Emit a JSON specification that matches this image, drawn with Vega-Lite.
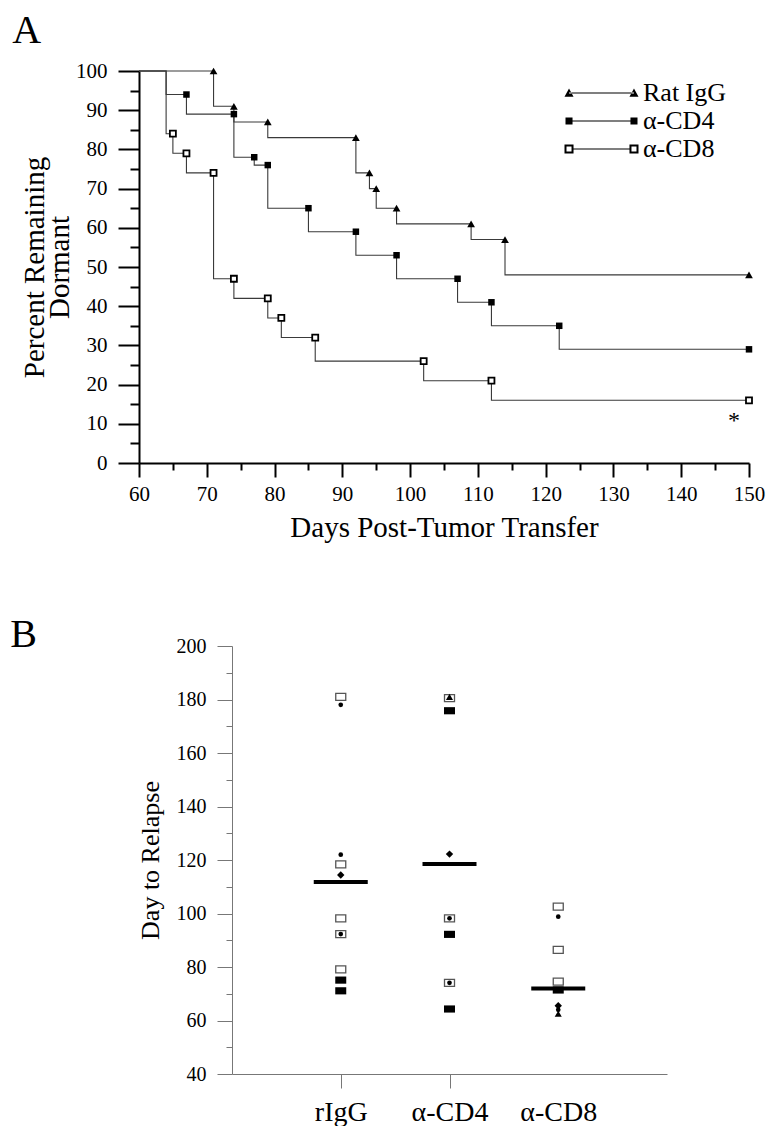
{
  "$schema": "https://vega.github.io/schema/vega-lite/v6.json",
  "padding": {"left": 10, "top": 11, "right": 4, "bottom": 4},
  "background": "white",
  "config": {
    "font": "Liberation Serif",
    "view": {"stroke": null},
    "axis": {"grid": false, "labelOverlap": false, "labelFont": "Liberation Serif", "titleFont": "Liberation Serif", "labelColor": "black", "titleColor": "black", "titleFontWeight": "normal"},
    "text": {"font": "Liberation Serif"}
  },
  "datasets": {
    "km": [
      {"g": "Rat IgG", "day": 60, "pct": 100, "m": 0},
      {"g": "Rat IgG", "day": 71, "pct": 100, "m": 1},
      {"g": "Rat IgG", "day": 74, "pct": 91, "m": 1},
      {"g": "Rat IgG", "day": 79, "pct": 87, "m": 1},
      {"g": "Rat IgG", "day": 92, "pct": 83, "m": 1},
      {"g": "Rat IgG", "day": 94, "pct": 74, "m": 1},
      {"g": "Rat IgG", "day": 95, "pct": 70, "m": 1},
      {"g": "Rat IgG", "day": 98, "pct": 65, "m": 1},
      {"g": "Rat IgG", "day": 109, "pct": 61, "m": 1},
      {"g": "Rat IgG", "day": 114, "pct": 57, "m": 1},
      {"g": "Rat IgG", "day": 150, "pct": 48, "m": 1},
      {"g": "α-CD4", "day": 60, "pct": 100, "m": 0},
      {"g": "α-CD4", "day": 64, "pct": 100, "m": 0},
      {"g": "α-CD4", "day": 67, "pct": 94, "m": 1},
      {"g": "α-CD4", "day": 74, "pct": 89, "m": 1},
      {"g": "α-CD4", "day": 77, "pct": 78, "m": 1},
      {"g": "α-CD4", "day": 79, "pct": 76, "m": 1},
      {"g": "α-CD4", "day": 85, "pct": 65, "m": 1},
      {"g": "α-CD4", "day": 92, "pct": 59, "m": 1},
      {"g": "α-CD4", "day": 98, "pct": 53, "m": 1},
      {"g": "α-CD4", "day": 107, "pct": 47, "m": 1},
      {"g": "α-CD4", "day": 112, "pct": 41, "m": 1},
      {"g": "α-CD4", "day": 122, "pct": 35, "m": 1},
      {"g": "α-CD4", "day": 150, "pct": 29, "m": 1},
      {"g": "α-CD8", "day": 60, "pct": 100, "m": 0},
      {"g": "α-CD8", "day": 64, "pct": 100, "m": 0},
      {"g": "α-CD8", "day": 65, "pct": 84, "m": 1},
      {"g": "α-CD8", "day": 67, "pct": 79, "m": 1},
      {"g": "α-CD8", "day": 71, "pct": 74, "m": 1},
      {"g": "α-CD8", "day": 74, "pct": 47, "m": 1},
      {"g": "α-CD8", "day": 79, "pct": 42, "m": 1},
      {"g": "α-CD8", "day": 81, "pct": 37, "m": 1},
      {"g": "α-CD8", "day": 86, "pct": 32, "m": 1},
      {"g": "α-CD8", "day": 102, "pct": 26, "m": 1},
      {"g": "α-CD8", "day": 112, "pct": 21, "m": 1},
      {"g": "α-CD8", "day": 150, "pct": 16, "m": 1}
    ],
    "relapse": [
      {"grp": "rIgG", "day": 181, "sym": "osq"},
      {"grp": "rIgG", "day": 178, "sym": "dot"},
      {"grp": "rIgG", "day": 122, "sym": "dot"},
      {"grp": "rIgG", "day": 118.4, "sym": "osq"},
      {"grp": "rIgG", "day": 114.4, "sym": "dia"},
      {"grp": "rIgG", "day": 98.2, "sym": "osq"},
      {"grp": "rIgG", "day": 92.3, "sym": "osq"},
      {"grp": "rIgG", "day": 92.3, "sym": "dot"},
      {"grp": "rIgG", "day": 79.1, "sym": "osq"},
      {"grp": "rIgG", "day": 75.1, "sym": "sq"},
      {"grp": "rIgG", "day": 71.1, "sym": "sq"},
      {"grp": "α-CD4", "day": 180.5, "sym": "osq"},
      {"grp": "α-CD4", "day": 181, "sym": "tri"},
      {"grp": "α-CD4", "day": 175.8, "sym": "sq"},
      {"grp": "α-CD4", "day": 122.2, "sym": "dia"},
      {"grp": "α-CD4", "day": 98.2, "sym": "osq"},
      {"grp": "α-CD4", "day": 98.2, "sym": "dot"},
      {"grp": "α-CD4", "day": 92.2, "sym": "sq"},
      {"grp": "α-CD4", "day": 74.1, "sym": "osq"},
      {"grp": "α-CD4", "day": 74.1, "sym": "dot"},
      {"grp": "α-CD4", "day": 64.3, "sym": "sq"},
      {"grp": "α-CD8", "day": 102.6, "sym": "osq"},
      {"grp": "α-CD8", "day": 98.8, "sym": "dot"},
      {"grp": "α-CD8", "day": 86.4, "sym": "osq"},
      {"grp": "α-CD8", "day": 74.5, "sym": "osq"},
      {"grp": "α-CD8", "day": 71.4, "sym": "sq"},
      {"grp": "α-CD8", "day": 65.5, "sym": "dia"},
      {"grp": "α-CD8", "day": 64, "sym": "dot"},
      {"grp": "α-CD8", "day": 62.5, "sym": "tri"}
    ],
    "means": [
      {"grp": "rIgG", "mean_day": 111.8},
      {"grp": "α-CD4", "mean_day": 118.5},
      {"grp": "α-CD8", "mean_day": 72}
    ]
  },
  "bounds": "flush",
  "spacing": 183,
  "resolve": {"scale": {"x": "independent", "y": "independent"}},
  "vconcat": [
    {
      "width": 610,
      "height": 392,
      "data": {"name": "km"},
      "layer": [
        {
          "mark": {"type": "line", "interpolate": "step-before", "color": "#3a3a3a", "strokeWidth": 1.1},
          "encoding": {
            "x": {"field": "day", "type": "quantitative", "scale": {"domain": [60, 150], "nice": false, "zero": false},
              "axis": {"title": "Days Post-Tumor Transfer", "values": [60, 65, 70, 75, 80, 85, 90, 95, 100, 105, 110, 115, 120, 125, 130, 135, 140, 145, 150], "labelExpr": "datum.value % 10 === 0 ? datum.label : ''", "tickSize": {"condition": {"test": "datum.value % 10 === 0", "value": 14}, "value": 7}, "domainColor": "black", "domainWidth": 2, "tickColor": "black", "tickWidth": 2, "labelFontSize": 21, "labelPadding": 6, "labelFlush": false, "labelOverlap": false, "titleFontSize": 29, "titlePadding": 9}},
            "y": {"field": "pct", "type": "quantitative", "scale": {"domain": [0, 100], "nice": false, "zero": false},
              "axis": {"title": ["Percent Remaining", "Dormant"], "values": [0, 5, 10, 15, 20, 25, 30, 35, 40, 45, 50, 55, 60, 65, 70, 75, 80, 85, 90, 95, 100], "labelExpr": "datum.value % 10 === 0 ? datum.label : ''", "tickSize": {"condition": {"test": "datum.value % 10 === 0", "value": 21}, "value": 9}, "domainColor": "black", "domainWidth": 2, "tickColor": "black", "tickWidth": 2, "labelFontSize": 21, "labelPadding": 11, "labelFlush": false, "labelOverlap": false, "titleFontSize": 29, "titlePadding": 1, "titleLineHeight": 25}},
            "detail": {"field": "g", "type": "nominal"}
          }
        },
        {
          "transform": [{"filter": "datum.g === 'Rat IgG' && datum.m === 1"}],
          "mark": {"type": "point", "shape": "triangle-up", "filled": true, "color": "black", "size": 60, "opacity": 1},
          "encoding": {
            "x": {"field": "day", "type": "quantitative", "scale": {"domain": [60, 150], "nice": false, "zero": false},
              "axis": {"title": "Days Post-Tumor Transfer", "values": [60, 65, 70, 75, 80, 85, 90, 95, 100, 105, 110, 115, 120, 125, 130, 135, 140, 145, 150], "labelExpr": "datum.value % 10 === 0 ? datum.label : ''", "tickSize": {"condition": {"test": "datum.value % 10 === 0", "value": 14}, "value": 7}, "domainColor": "black", "domainWidth": 2, "tickColor": "black", "tickWidth": 2, "labelFontSize": 21, "labelPadding": 6, "labelFlush": false, "labelOverlap": false, "titleFontSize": 29, "titlePadding": 9}},
            "y": {"field": "pct", "type": "quantitative", "scale": {"domain": [0, 100], "nice": false, "zero": false},
              "axis": {"title": ["Percent Remaining", "Dormant"], "values": [0, 5, 10, 15, 20, 25, 30, 35, 40, 45, 50, 55, 60, 65, 70, 75, 80, 85, 90, 95, 100], "labelExpr": "datum.value % 10 === 0 ? datum.label : ''", "tickSize": {"condition": {"test": "datum.value % 10 === 0", "value": 21}, "value": 9}, "domainColor": "black", "domainWidth": 2, "tickColor": "black", "tickWidth": 2, "labelFontSize": 21, "labelPadding": 11, "labelFlush": false, "labelOverlap": false, "titleFontSize": 29, "titlePadding": 1, "titleLineHeight": 25}}
          }
        },
        {
          "transform": [{"filter": "datum.g === 'α-CD4' && datum.m === 1"}],
          "mark": {"type": "point", "shape": "square", "filled": true, "color": "black", "size": 42, "opacity": 1},
          "encoding": {
            "x": {"field": "day", "type": "quantitative", "scale": {"domain": [60, 150], "nice": false, "zero": false},
              "axis": {"title": "Days Post-Tumor Transfer", "values": [60, 65, 70, 75, 80, 85, 90, 95, 100, 105, 110, 115, 120, 125, 130, 135, 140, 145, 150], "labelExpr": "datum.value % 10 === 0 ? datum.label : ''", "tickSize": {"condition": {"test": "datum.value % 10 === 0", "value": 14}, "value": 7}, "domainColor": "black", "domainWidth": 2, "tickColor": "black", "tickWidth": 2, "labelFontSize": 21, "labelPadding": 6, "labelFlush": false, "labelOverlap": false, "titleFontSize": 29, "titlePadding": 9}},
            "y": {"field": "pct", "type": "quantitative", "scale": {"domain": [0, 100], "nice": false, "zero": false},
              "axis": {"title": ["Percent Remaining", "Dormant"], "values": [0, 5, 10, 15, 20, 25, 30, 35, 40, 45, 50, 55, 60, 65, 70, 75, 80, 85, 90, 95, 100], "labelExpr": "datum.value % 10 === 0 ? datum.label : ''", "tickSize": {"condition": {"test": "datum.value % 10 === 0", "value": 21}, "value": 9}, "domainColor": "black", "domainWidth": 2, "tickColor": "black", "tickWidth": 2, "labelFontSize": 21, "labelPadding": 11, "labelFlush": false, "labelOverlap": false, "titleFontSize": 29, "titlePadding": 1, "titleLineHeight": 25}}
          }
        },
        {
          "transform": [{"filter": "datum.g === 'α-CD8' && datum.m === 1"}],
          "mark": {"type": "point", "shape": "square", "filled": true, "fill": "white", "stroke": "black", "strokeWidth": 1.8, "size": 36, "opacity": 1},
          "encoding": {
            "x": {"field": "day", "type": "quantitative", "scale": {"domain": [60, 150], "nice": false, "zero": false},
              "axis": {"title": "Days Post-Tumor Transfer", "values": [60, 65, 70, 75, 80, 85, 90, 95, 100, 105, 110, 115, 120, 125, 130, 135, 140, 145, 150], "labelExpr": "datum.value % 10 === 0 ? datum.label : ''", "tickSize": {"condition": {"test": "datum.value % 10 === 0", "value": 14}, "value": 7}, "domainColor": "black", "domainWidth": 2, "tickColor": "black", "tickWidth": 2, "labelFontSize": 21, "labelPadding": 6, "labelFlush": false, "labelOverlap": false, "titleFontSize": 29, "titlePadding": 9}},
            "y": {"field": "pct", "type": "quantitative", "scale": {"domain": [0, 100], "nice": false, "zero": false},
              "axis": {"title": ["Percent Remaining", "Dormant"], "values": [0, 5, 10, 15, 20, 25, 30, 35, 40, 45, 50, 55, 60, 65, 70, 75, 80, 85, 90, 95, 100], "labelExpr": "datum.value % 10 === 0 ? datum.label : ''", "tickSize": {"condition": {"test": "datum.value % 10 === 0", "value": 21}, "value": 9}, "domainColor": "black", "domainWidth": 2, "tickColor": "black", "tickWidth": 2, "labelFontSize": 21, "labelPadding": 11, "labelFlush": false, "labelOverlap": false, "titleFontSize": 29, "titlePadding": 1, "titleLineHeight": 25}}
          }
        },
        {
          "transform": [{"filter": "datum.m === 9"}],
          "mark": {"type": "point", "filled": true, "color": "black", "opacity": 1},
          "encoding": {
            "x": {"field": "day", "type": "quantitative", "scale": {"domain": [60, 150], "nice": false, "zero": false},
              "axis": {"title": "Days Post-Tumor Transfer", "values": [60, 65, 70, 75, 80, 85, 90, 95, 100, 105, 110, 115, 120, 125, 130, 135, 140, 145, 150], "labelExpr": "datum.value % 10 === 0 ? datum.label : ''", "tickSize": {"condition": {"test": "datum.value % 10 === 0", "value": 14}, "value": 7}, "domainColor": "black", "domainWidth": 2, "tickColor": "black", "tickWidth": 2, "labelFontSize": 21, "labelPadding": 6, "labelFlush": false, "labelOverlap": false, "titleFontSize": 29, "titlePadding": 9}},
            "y": {"field": "pct", "type": "quantitative", "scale": {"domain": [0, 100], "nice": false, "zero": false},
              "axis": {"title": ["Percent Remaining", "Dormant"], "values": [0, 5, 10, 15, 20, 25, 30, 35, 40, 45, 50, 55, 60, 65, 70, 75, 80, 85, 90, 95, 100], "labelExpr": "datum.value % 10 === 0 ? datum.label : ''", "tickSize": {"condition": {"test": "datum.value % 10 === 0", "value": 21}, "value": 9}, "domainColor": "black", "domainWidth": 2, "tickColor": "black", "tickWidth": 2, "labelFontSize": 21, "labelPadding": 11, "labelFlush": false, "labelOverlap": false, "titleFontSize": 29, "titlePadding": 1, "titleLineHeight": 25}},
            "shape": {
              "field": "g", "type": "nominal",
              "scale": {
                "domain": ["Rat IgG", "α-CD4", "α-CD8"],
                "range": [
                  "M-1,0.1L-0.756,0.1L-0.878,-0.12ZM-0.878,-0.015L0.878,-0.015L0.878,0.015L-0.878,0.015ZM0.756,0.1L1,0.1L0.878,-0.12Z",
                  "M-0.973,-0.095L-0.783,-0.095L-0.783,0.095L-0.973,0.095ZM-0.878,-0.015L0.878,-0.015L0.878,0.015L-0.878,0.015ZM0.783,-0.095L0.973,-0.095L0.973,0.095L0.783,0.095Z",
                  "M-1,-0.122L-0.756,-0.122L-0.756,0.122L-1,0.122ZM-0.946,-0.068L-0.946,0.068L-0.81,0.068L-0.81,-0.068ZM-0.756,-0.015L0.756,-0.015L0.756,0.015L-0.756,0.015ZM0.756,-0.122L1,-0.122L1,0.122L0.756,0.122ZM0.81,-0.068L0.81,0.068L0.946,0.068L0.946,-0.068Z"
                ]
              },
              "legend": {
                "title": null, "orient": "none", "legendX": 425, "legendY": 9, "padding": 0,
                "symbolSize": 5476, "clipHeight": 26, "rowPadding": 2,
                "symbolFillColor": "black", "symbolStrokeColor": "black", "symbolStrokeWidth": 0.5, "symbolOpacity": 1,
                "labelFont": "Liberation Serif", "labelFontSize": 26, "labelColor": "black", "labelOffset": 4, "labelLimit": 300,
                "encode": {"symbols": {"update": {"stroke": {"value": "black"}, "strokeWidth": {"value": 0.5}, "fill": {"value": "black"}, "opacity": {"value": 1}}}}
              }
            }
          }
        },
        {
          "data": {"values": [{"t": "A"}]},
          "mark": {"type": "text", "align": "left", "baseline": "alphabetic", "fontSize": 40, "color": "black", "fill": "black"},
          "encoding": {
            "text": {"field": "t"},
            "x": {"datum": 41.3, "type": "quantitative", "scale": {"domain": [60, 150], "nice": false, "zero": false},
              "axis": {"title": "Days Post-Tumor Transfer", "values": [60, 65, 70, 75, 80, 85, 90, 95, 100, 105, 110, 115, 120, 125, 130, 135, 140, 145, 150], "labelExpr": "datum.value % 10 === 0 ? datum.label : ''", "tickSize": {"condition": {"test": "datum.value % 10 === 0", "value": 14}, "value": 7}, "domainColor": "black", "domainWidth": 2, "tickColor": "black", "tickWidth": 2, "labelFontSize": 21, "labelPadding": 6, "labelFlush": false, "labelOverlap": false, "titleFontSize": 29, "titlePadding": 9}},
            "y": {"datum": 107.1, "type": "quantitative", "scale": {"domain": [0, 100], "nice": false, "zero": false},
              "axis": {"title": ["Percent Remaining", "Dormant"], "values": [0, 5, 10, 15, 20, 25, 30, 35, 40, 45, 50, 55, 60, 65, 70, 75, 80, 85, 90, 95, 100], "labelExpr": "datum.value % 10 === 0 ? datum.label : ''", "tickSize": {"condition": {"test": "datum.value % 10 === 0", "value": 21}, "value": 9}, "domainColor": "black", "domainWidth": 2, "tickColor": "black", "tickWidth": 2, "labelFontSize": 21, "labelPadding": 11, "labelFlush": false, "labelOverlap": false, "titleFontSize": 29, "titlePadding": 1, "titleLineHeight": 25}}
          }
        },
        {
          "data": {"values": [{"t": "B"}]},
          "mark": {"type": "text", "align": "left", "baseline": "alphabetic", "fontSize": 40, "color": "black", "fill": "black"},
          "encoding": {
            "text": {"field": "t"},
            "x": {"datum": 41.0, "type": "quantitative", "scale": {"domain": [60, 150], "nice": false, "zero": false},
              "axis": {"title": "Days Post-Tumor Transfer", "values": [60, 65, 70, 75, 80, 85, 90, 95, 100, 105, 110, 115, 120, 125, 130, 135, 140, 145, 150], "labelExpr": "datum.value % 10 === 0 ? datum.label : ''", "tickSize": {"condition": {"test": "datum.value % 10 === 0", "value": 14}, "value": 7}, "domainColor": "black", "domainWidth": 2, "tickColor": "black", "tickWidth": 2, "labelFontSize": 21, "labelPadding": 6, "labelFlush": false, "labelOverlap": false, "titleFontSize": 29, "titlePadding": 9}},
            "y": {"datum": -46.9, "type": "quantitative", "scale": {"domain": [0, 100], "nice": false, "zero": false},
              "axis": {"title": ["Percent Remaining", "Dormant"], "values": [0, 5, 10, 15, 20, 25, 30, 35, 40, 45, 50, 55, 60, 65, 70, 75, 80, 85, 90, 95, 100], "labelExpr": "datum.value % 10 === 0 ? datum.label : ''", "tickSize": {"condition": {"test": "datum.value % 10 === 0", "value": 21}, "value": 9}, "domainColor": "black", "domainWidth": 2, "tickColor": "black", "tickWidth": 2, "labelFontSize": 21, "labelPadding": 11, "labelFlush": false, "labelOverlap": false, "titleFontSize": 29, "titlePadding": 1, "titleLineHeight": 25}}
          }
        },
        {
          "data": {"values": [{"t": "*"}]},
          "mark": {"type": "text", "align": "center", "baseline": "alphabetic", "fontSize": 24, "color": "black", "fill": "black"},
          "encoding": {
            "text": {"field": "t"},
            "x": {"datum": 147.8, "type": "quantitative", "scale": {"domain": [60, 150], "nice": false, "zero": false},
              "axis": {"title": "Days Post-Tumor Transfer", "values": [60, 65, 70, 75, 80, 85, 90, 95, 100, 105, 110, 115, 120, 125, 130, 135, 140, 145, 150], "labelExpr": "datum.value % 10 === 0 ? datum.label : ''", "tickSize": {"condition": {"test": "datum.value % 10 === 0", "value": 14}, "value": 7}, "domainColor": "black", "domainWidth": 2, "tickColor": "black", "tickWidth": 2, "labelFontSize": 21, "labelPadding": 6, "labelFlush": false, "labelOverlap": false, "titleFontSize": 29, "titlePadding": 9}},
            "y": {"datum": 9.0, "type": "quantitative", "scale": {"domain": [0, 100], "nice": false, "zero": false},
              "axis": {"title": ["Percent Remaining", "Dormant"], "values": [0, 5, 10, 15, 20, 25, 30, 35, 40, 45, 50, 55, 60, 65, 70, 75, 80, 85, 90, 95, 100], "labelExpr": "datum.value % 10 === 0 ? datum.label : ''", "tickSize": {"condition": {"test": "datum.value % 10 === 0", "value": 21}, "value": 9}, "domainColor": "black", "domainWidth": 2, "tickColor": "black", "tickWidth": 2, "labelFontSize": 21, "labelPadding": 11, "labelFlush": false, "labelOverlap": false, "titleFontSize": 29, "titlePadding": 1, "titleLineHeight": 25}}
          }
        }
      ]
    },
    {
      "bounds": "flush",
      "spacing": 0,
      "hconcat": [
        {"width": 93, "height": 10, "data": {"values": []}, "mark": "point"},
        {
          "width": 435,
          "height": 428,
          "data": {"name": "relapse"},
          "encoding": {
            "x": {
              "field": "grp", "type": "nominal",
              "scale": {"type": "point", "domain": ["rIgG", "α-CD4", "α-CD8"], "padding": 1},
              "axis": {
                "title": null, "labelAngle": 0, "labelFontSize": 28, "labelPadding": 10, "tickSize": 14,
                "domainColor": "#777", "tickColor": "#777", "domainWidth": 1, "tickWidth": 1,
                "tickOpacity": {"condition": {"test": "datum.value === 'α-CD8'", "value": 0}, "value": 1}
              }
            },
            "y": {
              "field": "day", "type": "quantitative",
              "scale": {"domain": [40, 200], "nice": false, "zero": false},
              "axis": {
                "title": "Day to Relapse",
                "values": [40, 50, 60, 70, 80, 90, 100, 110, 120, 130, 140, 150, 160, 170, 180, 190, 200],
                "labelExpr": "datum.value % 20 === 0 ? datum.label : ''",
                "tickSize": {"condition": {"test": "datum.value % 20 === 0", "value": 15}, "value": 6},
                "domainColor": "#777", "tickColor": "#777", "domainWidth": 1, "tickWidth": 1,
                "labelFontSize": 20, "labelPadding": 11, "labelFlush": false, "labelOverlap": false,
                "titleFontSize": 26, "titlePadding": 13
              }
            }
          },
          "layer": [
            {
              "transform": [{"filter": "datum.sym === 'osq'"}],
              "mark": {"type": "point", "shape": "M-1,-0.7L1,-0.7L1,0.7L-1,0.7Z", "filled": true, "fill": "white", "stroke": "#555", "strokeWidth": 1.3, "size": 100, "opacity": 1}
            },
            {
              "transform": [{"filter": "datum.sym === 'sq'"}],
              "mark": {"type": "point", "shape": "M-1,-0.65L1,-0.65L1,0.65L-1,0.65Z", "filled": true, "color": "black", "size": 121, "opacity": 1}
            },
            {
              "transform": [{"filter": "datum.sym === 'dia'"}],
              "mark": {"type": "point", "shape": "diamond", "filled": true, "color": "black", "size": 55, "opacity": 1}
            },
            {
              "transform": [{"filter": "datum.sym === 'tri'"}],
              "mark": {"type": "point", "shape": "triangle-up", "filled": true, "color": "black", "size": 50, "opacity": 1}
            },
            {
              "transform": [{"filter": "datum.sym === 'dot'"}],
              "mark": {"type": "point", "shape": "circle", "filled": true, "color": "black", "size": 22, "opacity": 1}
            },
            {
              "data": {"name": "means"},
              "mark": {"type": "tick", "color": "black", "size": 54, "thickness": 4, "opacity": 1},
              "encoding": {"y": {"field": "mean_day", "type": "quantitative"}}
            }
          ]
        }
      ]
    }
  ]
}
